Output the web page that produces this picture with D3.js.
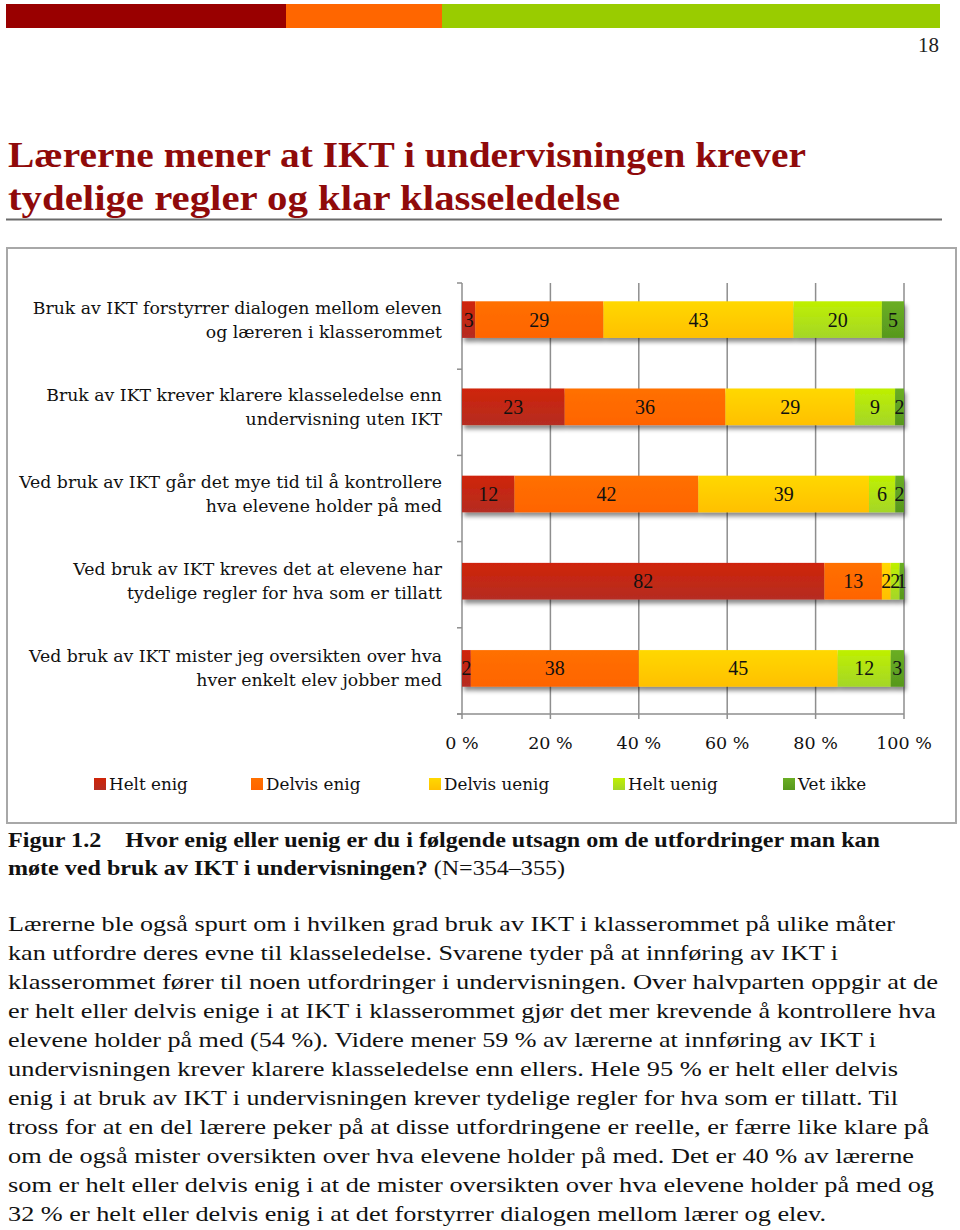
<!DOCTYPE html>
<html>
<head>
<meta charset="utf-8">
<script src="https://cdn.jsdelivr.net/npm/d3@7"></script>
<style>
body { margin: 0; background: #fff; }
</style>
</head>
<body>
<div id="page"></div>
<script>
// chart data
var categories = [
    ["Bruk av IKT forstyrrer dialogen mellom eleven", "og læreren i klasserommet"],
    ["Bruk av IKT krever klarere klasseledelse enn", "undervisning uten IKT"],
    ["Ved bruk av IKT går det mye tid til å kontrollere", "hva elevene holder på med"],
    ["Ved bruk av IKT kreves det at elevene har", "tydelige regler for hva som er tillatt"],
    ["Ved bruk av IKT mister jeg oversikten over hva", "hver enkelt elev jobber med"]
];
var seriesNames = ["Helt enig", "Delvis enig", "Delvis uenig", "Helt uenig", "Vet ikke"];
var heltEnig    = [3, 23, 12, 82, 2];
var delvisEnig  = [29, 36, 42, 13, 38];
var delvisUenig = [43, 29, 39, 2, 45];
var heltUenig   = [20, 9, 6, 2, 12];
var vetIkke     = [5, 2, 2, 1, 3];
var tickValues = [0, 0.2, 0.4, 0.6, 0.8, 1];
var tickLabels = ["0 %", "20 %", "40 %", "60 %", "80 %", "100 %"];

// page text
var titleLines = ["Lærerne mener at IKT i undervisningen krever", "tydelige regler og klar klasseledelse"];
var bodyLines = [
    "Lærerne ble også spurt om i hvilken grad bruk av IKT i klasserommet på ulike måter",
    "kan utfordre deres evne til klasseledelse. Svarene tyder på at innføring av IKT i",
    "klasserommet fører til noen utfordringer i undervisningen. Over halvparten oppgir at de",
    "er helt eller delvis enige i at IKT i klasserommet gjør det mer krevende å kontrollere hva",
    "elevene holder på med (54 %). Videre mener 59 % av lærerne at innføring av IKT i",
    "undervisningen krever klarere klasseledelse enn ellers. Hele 95 % er helt eller delvis",
    "enig i at bruk av IKT i undervisningen krever tydelige regler for hva som er tillatt. Til",
    "tross for at en del lærere peker på at disse utfordringene er reelle, er færre like klare på",
    "om de også mister oversikten over hva elevene holder på med. Det er 40 % av lærerne",
    "som er helt eller delvis enig i at de mister oversikten over hva elevene holder på med og",
    "32 % er helt eller delvis enig i at det forstyrrer dialogen mellom lærer og elev."
];
var bodyWidths = [887, 830, 930, 928, 868, 890, 890, 921, 906, 926, 818];

var W = 960, H = 1230;
var svg = d3.select("#page").append("svg").attr("width", W).attr("height", H);

var colors = {
    "Helt enig":    ["#cf2408", "#b52d22"],
    "Delvis enig":  ["#ff7000", "#ff6400"],
    "Delvis uenig": ["#ffd800", "#ffc000"],
    "Helt uenig":   ["#bff000", "#a4d628"],
    "Vet ikke":     ["#6aae24", "#57981e"]
};

var defs = svg.append("defs");
seriesNames.forEach(function(s, i) {
    var g = defs.append("linearGradient").attr("id", "grad" + i)
        .attr("x1", 0).attr("y1", 0).attr("x2", 0).attr("y2", 1);
    g.append("stop").attr("offset", "0%").attr("stop-color", colors[s][0]);
    g.append("stop").attr("offset", "100%").attr("stop-color", colors[s][1]);
});
var shadow = defs.append("filter").attr("id", "shadow")
    .attr("x", "-5%").attr("y", "-20%").attr("width", "115%").attr("height", "160%");
shadow.append("feDropShadow").attr("dx", 2).attr("dy", 4).attr("stdDeviation", 2)
    .attr("flood-color", "#000").attr("flood-opacity", 0.45);

// top decoration bar
svg.append("rect").attr("x", 6).attr("y", 4).attr("width", 280).attr("height", 24).attr("fill", "#990000");
svg.append("rect").attr("x", 286).attr("y", 4).attr("width", 156).attr("height", 24).attr("fill", "#ff6600");
svg.append("rect").attr("x", 442).attr("y", 4).attr("width", 498).attr("height", 24).attr("fill", "#99cc00");

svg.append("text").attr("x", 939).attr("y", 52).attr("text-anchor", "end")
    .style("font-family", "Liberation Serif").style("font-size", "22px").attr("fill", "#222")
    .attr("textLength", 21).attr("lengthAdjust", "spacingAndGlyphs")
    .text("18");

// title
svg.selectAll(".title").data(titleLines).enter().append("text")
    .attr("class", "title")
    .attr("x", 8).attr("y", function(d, i) { return 167 + i * 43; })
    .attr("textLength", function(d, i) { return i == 0 ? 798 : 612; })
    .attr("lengthAdjust", "spacingAndGlyphs")
    .style("font-family", "Liberation Serif").style("font-weight", "bold").style("font-size", "36px")
    .attr("fill", "#8f0a0a")
    .text(function(d) { return d; });
svg.append("line").attr("x1", 6).attr("x2", 942).attr("y1", 219.5).attr("y2", 219.5)
    .attr("stroke", "#6a6a6a").attr("stroke-width", 2);

// chart frame
svg.append("rect").attr("x", 7).attr("y", 248).attr("width", 949).attr("height", 575)
    .attr("fill", "none").attr("stroke", "#a8a8a8").attr("stroke-width", 2);

var x = d3.scaleLinear().domain([0, 1]).range([462, 904]);
var y = d3.scaleBand().domain(d3.range(categories.length)).range([276, 712]).paddingInner(0.58).paddingOuter(0.29);

var rows = categories.map(function(c, i) {
    return {
        "Helt enig": heltEnig[i], "Delvis enig": delvisEnig[i], "Delvis uenig": delvisUenig[i],
        "Helt uenig": heltUenig[i], "Vet ikke": vetIkke[i]
    };
});
var stack = d3.stack().keys(seriesNames).offset(d3.stackOffsetExpand);
var series = stack(rows);

// gridlines
svg.append("g").selectAll("line").data(tickValues).enter().append("line")
    .attr("x1", function(d) { return x(d); }).attr("x2", function(d) { return x(d); })
    .attr("y1", 283).attr("y2", 719)
    .attr("stroke", "#8e8e8e").attr("stroke-width", 1.5);

// y axis with separators
var sep = d3.range(categories.length + 1).map(function(i) { return 283 + i * (714 - 283) / categories.length; });
svg.append("g").selectAll("line").data(sep).enter().append("line")
    .attr("x1", 457).attr("x2", 462)
    .attr("y1", function(d) { return d; }).attr("y2", function(d) { return d; })
    .attr("stroke", "#8e8e8e").attr("stroke-width", 1.5);
svg.append("line").attr("x1", 457).attr("x2", 904).attr("y1", 714).attr("y2", 714)
    .attr("stroke", "#8e8e8e").attr("stroke-width", 1.5);

// bars
var barRows = svg.append("g").selectAll("g").data(categories).enter().append("g")
    .attr("filter", "url(#shadow)");
barRows.each(function(c, i) {
    var row = d3.select(this);
    series.forEach(function(s, k) {
        row.append("rect")
            .attr("x", x(s[i][0]))
            .attr("y", y(i))
            .attr("width", x(s[i][1]) - x(s[i][0]))
            .attr("height", y.bandwidth())
            .attr("fill", "url(#grad" + k + ")");
    });
});

// value labels
series.forEach(function(s, k) {
    svg.append("g").selectAll("text").data(s).enter().append("text")
        .attr("x", function(d) { return (x(d[0]) + x(d[1])) / 2; })
        .attr("y", function(d, i) { return y(i) + y.bandwidth() / 2 + 7; })
        .attr("text-anchor", "middle")
        .style("font-family", "Liberation Serif").style("font-size", "20px").attr("fill", "#111")
        .text(function(d) { return d.data[seriesNames[k]]; });
});

// category labels
svg.append("g").selectAll("text").data(categories).enter().append("text")
    .attr("text-anchor", "end")
    .style("font-family", "DejaVu Serif").style("font-size", "17.3px").attr("fill", "#111")
    .each(function(d, i) {
        var t = d3.select(this);
        d.forEach(function(line, j) {
            t.append("tspan").attr("x", 442)
                .attr("y", y(i) + y.bandwidth() / 2 - 6 + j * 24)
                .text(line);
        });
    });

// x tick labels
svg.append("g").selectAll("text").data(tickValues).enter().append("text")
    .attr("x", function(d) { return x(d); }).attr("y", 749)
    .attr("text-anchor", "middle")
    .style("font-family", "DejaVu Serif").style("font-size", "17.5px").attr("fill", "#111")
    .text(function(d, i) { return tickLabels[i]; });

// legend
var legendX = [94, 251, 429, 613, 783];
var legend = svg.append("g").selectAll("g").data(seriesNames).enter().append("g")
    .attr("transform", function(d, i) { return "translate(" + legendX[i] + ",778)"; });
legend.append("rect").attr("width", 12).attr("height", 12)
    .attr("fill", function(d, i) { return "url(#grad" + i + ")"; });
legend.append("text").attr("x", 15).attr("y", 12)
    .style("font-family", "DejaVu Serif").style("font-size", "16.8px").attr("fill", "#111")
    .text(function(d) { return d; });

// caption
var cap1 = svg.append("text").attr("x", 8).attr("y", 847)
    .style("font-family", "Liberation Serif").style("font-size", "21px").style("font-weight", "bold")
    .attr("fill", "#111").attr("textLength", 872).attr("lengthAdjust", "spacingAndGlyphs");
cap1.text("Figur 1.2\u00a0\u00a0\u00a0\u00a0Hvor enig eller uenig er du i følgende utsagn om de utfordringer man kan");
var cap2 = svg.append("text").attr("x", 8).attr("y", 875)
    .style("font-family", "Liberation Serif").style("font-size", "21px")
    .attr("fill", "#111").attr("textLength", 557).attr("lengthAdjust", "spacingAndGlyphs");
cap2.append("tspan").style("font-weight", "bold").text("møte ved bruk av IKT i undervisningen? ");
cap2.append("tspan").text("(N=354–355)");

// body text
svg.append("g").selectAll("text").data(bodyLines).enter().append("text")
    .attr("x", 8).attr("y", function(d, i) { return 931 + i * 29; })
    .attr("textLength", function(d, i) { return bodyWidths[i]; })
    .attr("lengthAdjust", "spacingAndGlyphs")
    .style("font-family", "Liberation Serif").style("font-size", "22px").attr("fill", "#111")
    .text(function(d) { return d; });
</script>
</body>
</html>
